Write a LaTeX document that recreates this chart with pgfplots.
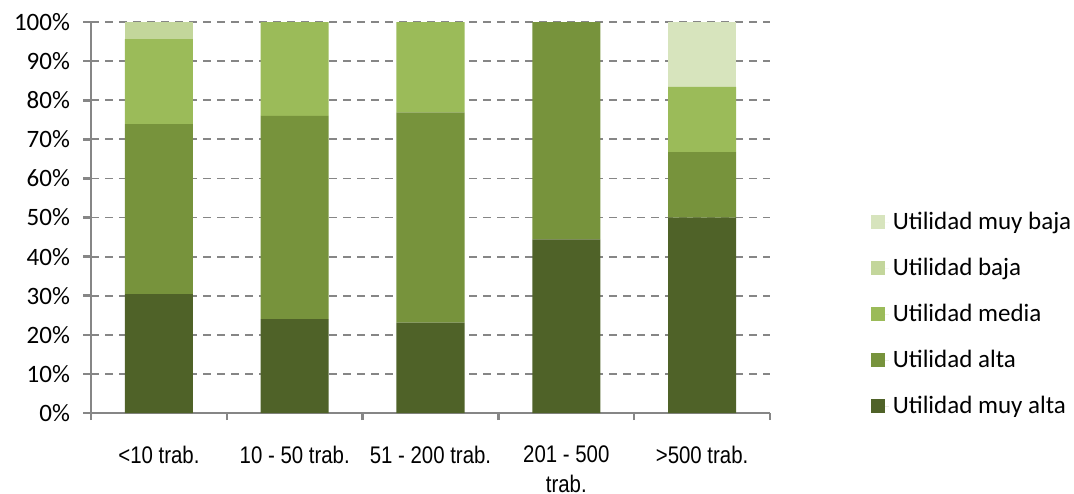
\documentclass[border=0pt]{standalone}
\usepackage{pgfplots}
\pgfplotsset{compat=1.18}
\usepackage{fontspec}
\setmainfont{Carlito}
\newfontfamily\narrowfont[FakeStretch=0.85]{Liberation Sans}

\definecolor{muyalta}{HTML}{4F6228}
\definecolor{alta}{HTML}{77933C}
\definecolor{media}{HTML}{9BBB59}
\definecolor{baja}{HTML}{C3D69B}
\definecolor{muybaja}{HTML}{D7E4BD}
\definecolor{axisgray}{HTML}{868686}

\pgfplotsset{sqlegend/.style={legend image code/.code={\fill[##1] (0pt,-3.5pt) rectangle (7pt,3.5pt); \path (0pt,0pt) -- (9pt,0pt);}}}

\begin{document}
\begin{tikzpicture}
\begin{axis}[
  scale only axis,
  width=339.5pt, height=195.5pt,
  ybar stacked, bar width=34pt,
  xmin=-0.5, xmax=4.5, ymin=0, ymax=100,
  axis lines=left,
  axis line style={-, line width=1.3pt, color=axisgray},
  tick align=outside,
  xtick={0,...,4},
  xticklabels={{<10 trab.},{10 - 50 trab.},{51 - 200 trab.},{201 - 500\\trab.},{>500 trab.}},
  x tick label style={font=\narrowfont\fontsize{12}{15}\selectfont, align=center, anchor=north, yshift=-9pt},
  major x tick style={draw=none},
  minor xtick={-0.5,0.5,...,4.5},
  minor tick length=3.5pt,
  minor x tick style={line width=1.3pt, color=axisgray},
  ytick={0,10,...,100},
  yticklabel={\pgfmathprintnumber{\tick}\%},
  /pgf/number format/assume math mode=true,
  y tick label style={font=\fontsize{12.5}{14}\selectfont, xshift=-3pt},
  major tick length=4pt,
  major y tick style={line width=1.3pt, color=axisgray},
  ymajorgrids,
  grid style={line width=0.9pt, color=axisgray, dash pattern=on 4pt off 3pt},
  legend style={at={(1.139,0.535)}, anchor=north west, draw=none, fill=none,
    font=\fontsize{12.5}{14}\selectfont, row sep=8.8pt},
  legend cell align=left,
  reverse legend,
]
\coordinate (o) at (rel axis cs:0,0);
\addplot[fill=muyalta, draw=none, sqlegend] coordinates {(0,30.4) (1,24) (2,23.1) (3,44.4) (4,50)};
\addplot[fill=alta, draw=none, sqlegend] coordinates {(0,43.5) (1,52) (2,53.8) (3,55.6) (4,16.7)};
\addplot[fill=media, draw=none, sqlegend] coordinates {(0,21.7) (1,24) (2,23.1) (3,0) (4,16.7)};
\addplot[fill=baja, draw=none, sqlegend] coordinates {(0,4.4) (1,0) (2,0) (3,0) (4,0)};
\addplot[fill=muybaja, draw=none, sqlegend] coordinates {(0,0) (1,0) (2,0) (3,0) (4,16.6)};
\legend{Utilidad muy alta, Utilidad alta, Utilidad media, Utilidad baja, Utilidad muy baja}
\end{axis}
\pgfresetboundingbox
\path ([shift={(-45.5pt,206.5pt)}]o) rectangle ([shift={(491.5pt,-40pt)}]o);
\end{tikzpicture}
\end{document}
